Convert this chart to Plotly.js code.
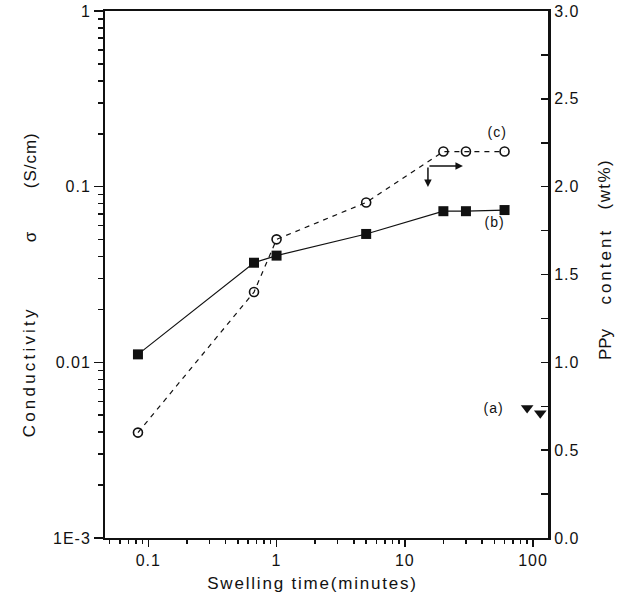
<!DOCTYPE html>
<html>
<head>
<meta charset="utf-8">
<script src="https://cdn.plot.ly/plotly-3.0.1.min.js"></script>
<style>
html, body { margin: 0; padding: 0; background: #fff; }
#chart { width: 626px; height: 600px; }
.xtick text, .ytick text, .y2tick text { letter-spacing: 1px; }
.annotation[data-index="0"] text, .annotation[data-index="1"] text, .annotation[data-index="2"] text { letter-spacing: 1px; }
.annotation[data-index="5"] text { letter-spacing: 1.8px; }
.annotation[data-index="6"] text { letter-spacing: 3.2px; }
.annotation[data-index="8"] text { letter-spacing: 1px; }
.annotation[data-index="10"] text { letter-spacing: 3px; }
.annotation[data-index="11"] text { letter-spacing: 1.4px; }
</style>
</head>
<body>
<div id="chart"></div>
<script>
// Series (b): conductivity (S/cm) vs swelling time (minutes)
var timeB = [0.083, 0.667, 1, 5, 20, 30, 60];
var condB = [0.0111, 0.0369, 0.0405, 0.0538, 0.0725, 0.0725, 0.0736];
// Series (c): PPy content (wt%) vs swelling time (minutes)
var timeC = [0.083, 0.667, 1, 5, 20, 30, 60];
var pctC = [0.60, 1.40, 1.70, 1.91, 2.20, 2.20, 2.20];
// Series (a)
var timeA = [90, 114];
var pctA = [0.74, 0.71];
// Tick labels
var xTickVals = [0.1, 1, 10, 100];
var xTickText = ['0.1', '1', '10', '100'];
var yTickVals = [0.001, 0.01, 0.1, 1];
var yTickText = ['1E-3', '0.01', '0.1', '1'];
var y2TickVals = [0, 0.5, 1.0, 1.5, 2.0, 2.5, 3.0];
var y2TickText = ['0.0', '0.5', '1.0', '1.5', '2.0', '2.5', '3.0'];

function minorLog(startExp, endExp) {
  var out = [];
  for (var e = startExp; e <= endExp; e++) {
    for (var m = 2; m <= 9; m++) out.push(m * Math.pow(10, e));
  }
  return out;
}

var FONT = 'Liberation Sans, Arial, sans-serif';
var INK = '#111';

var traces = [
  {
    x: timeB, y: condB, yaxis: 'y', type: 'scatter', mode: 'lines+markers',
    line: { color: INK, width: 1.2 },
    marker: { symbol: 'square', size: 10, color: INK },
    cliponaxis: false, showlegend: false
  },
  {
    x: timeC, y: pctC, yaxis: 'y2', type: 'scatter', mode: 'lines+markers',
    line: { color: INK, width: 1.2, dash: '5px,5px' },
    marker: { symbol: 'circle-open', size: 9, color: INK, line: { width: 1.6, color: INK } },
    cliponaxis: false, showlegend: false
  },
  {
    x: timeA, y: pctA, yaxis: 'y2', type: 'scatter', mode: 'markers',
    marker: { symbol: 'triangle-down', size: 11, color: INK },
    cliponaxis: false, showlegend: false
  }
];

function lab(text, x, y, size, angle) {
  return { text: text, x: x, y: y, xref: 'paper', yref: 'paper', showarrow: false,
    xanchor: 'center', yanchor: 'middle', textangle: angle || 0,
    font: { family: FONT, size: size, color: INK } };
}

var annotations = [
  lab('(c)', 0.885, 0.770, 14),
  lab('(b)', 0.880, 0.600, 14),
  lab('(a)', 0.876, 0.247, 14),
  { x: 0.729, y: 0.666, xref: 'paper', yref: 'paper', ax: 0, ay: -21, text: '', showarrow: true,
    arrowhead: 2, arrowsize: 1, arrowwidth: 1.5, arrowcolor: INK, standoff: 0 },
  { x: 0.808, y: 0.706, xref: 'paper', yref: 'paper', ax: -35, ay: 0, text: '', showarrow: true,
    arrowhead: 2, arrowsize: 1, arrowwidth: 1.5, arrowcolor: INK, standoff: 0 },
  lab('Swelling time(minutes)', 0.4695, -0.087, 17),
  lab('Conductivity', -0.169, 0.315, 17, -90),
  lab('σ', -0.169, 0.571, 17, -90),
  lab('(S/cm)', -0.169, 0.717, 17, -90),
  lab('PPy', 1.1287, 0.368, 17, -90),
  lab('content', 1.1287, 0.516, 17, -90),
  lab('(wt%)', 1.1287, 0.670, 17, -90)
];

var layout = {
  width: 626, height: 600,
  margin: { l: 105, r: 78, t: 11, b: 62, pad: 0 },
  paper_bgcolor: '#fff', plot_bgcolor: '#fff',
  font: { family: FONT, size: 16, color: INK },
  showlegend: false,
  xaxis: {
    type: 'log', range: [-1.338, 2.117],
    tickmode: 'array', tickvals: xTickVals, ticktext: xTickText,
    ticks: 'outside', ticklen: 7, tickwidth: 1.5, tickcolor: INK,
    minor: { tickmode: 'array', tickvals: minorLog(-2, 2), ticks: 'outside', ticklen: 4, tickwidth: 1.5, tickcolor: INK, showgrid: false },
    showline: true, linewidth: 2, linecolor: INK, mirror: true,
    showgrid: false, zeroline: false,
    tickfont: { family: FONT, size: 16, color: INK }
  },
  yaxis: {
    type: 'log', range: [-3, 0],
    tickmode: 'array', tickvals: yTickVals, ticktext: yTickText,
    ticks: 'outside', ticklen: 9, tickwidth: 1.5, tickcolor: INK,
    minor: { tickmode: 'array', tickvals: minorLog(-3, -1), ticks: 'outside', ticklen: 5, tickwidth: 1.5, tickcolor: INK, showgrid: false },
    showline: true, linewidth: 2, linecolor: INK,
    showgrid: false, zeroline: false,
    tickfont: { family: FONT, size: 16, color: INK }
  },
  yaxis2: {
    overlaying: 'y', side: 'right', range: [0, 3],
    tickmode: 'array', tickvals: y2TickVals, ticktext: y2TickText,
    ticks: 'inside', ticklen: 7, tickwidth: 1.5, tickcolor: INK,
    minor: { dtick: 0.25, ticks: 'inside', ticklen: 7, tickwidth: 1.5, tickcolor: INK, showgrid: false },
    showline: true, linewidth: 3, linecolor: INK,
    showgrid: false, zeroline: false,
    tickfont: { family: FONT, size: 16, color: INK }
  },
  annotations: annotations
};

Plotly.newPlot('chart', traces, layout, { displayModeBar: false, staticPlot: true });
</script>
</body>
</html>
